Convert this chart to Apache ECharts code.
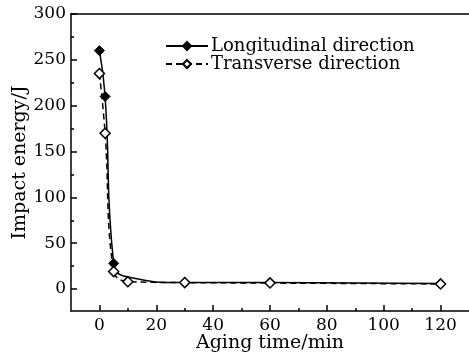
<!DOCTYPE html>
<html>
<head>
<meta charset="utf-8">
<script src="https://cdn.jsdelivr.net/npm/echarts@6/dist/echarts.min.js"></script>
<style>
  html, body { margin: 0; padding: 0; background: #fff; }
  #chart { width: 469px; height: 356px; }
</style>
</head>
<body>
<div id="chart"></div>
<script>
// 数据
var longX = [0, 2, 5, 10, 30, 60, 120];
var longY = [260, 210, 28, 13, 7, 7, 6];
var transX = [0, 2, 5, 10, 30, 60, 120];
var transY = [235, 170, 19, 8, 7, 6.5, 5.5];
var xMajor = [0, 20, 40, 60, 80, 100, 120];
var xMinor = [10, 30, 50, 70, 90, 110];
var yMajor = [0, 50, 100, 150, 200, 250, 300];
var yMinor = [25, 75, 125, 175, 225, 275];

var font = 'DejaVu Serif';

var longData = longX.map(function (x, i) {
  // x=10 只是曲线上的点，不画符号
  if (x === 10) return { value: [x, longY[i]], symbol: 'none' };
  return [x, longY[i]];
});
var transData = transX.map(function (x, i) { return [x, transY[i]]; });

var chart = echarts.init(document.getElementById('chart'));

var lineBlack = { color: '#000', width: 1.5 };

var option = {
  animation: false,
  grid: { left: 71, right: 0, top: 14, bottom: 45, outerBoundsMode: 'none', containLabel: false },
  legend: {
    orient: 'vertical',
    left: 160,
    top: 32,
    itemWidth: 42,
    itemHeight: 10,
    itemGap: 0,
    data: ['Longitudinal direction', 'Transverse direction'],
    textStyle: { fontFamily: font, fontSize: 18, color: '#000', lineHeight: 17, padding: [0, 0, 0, -2] }
  },
  xAxis: [{
    type: 'value',
    min: -10,
    max: 130,
    position: 'bottom',
    name: 'Aging time/min',
    nameLocation: 'middle',
    nameGap: 23,
    nameMoveOverlap: false,
    nameTextStyle: { fontFamily: font, fontSize: 19, color: '#000' },
    axisLine: { onZero: false, lineStyle: lineBlack },
    axisTick: { inside: true, length: 6, customValues: xMajor, lineStyle: lineBlack },
    axisLabel: { customValues: xMajor, fontFamily: font, fontSize: 17, color: '#000', margin: 6 },
    splitLine: { show: false }
  }, {
    type: 'value',
    min: -10,
    max: 130,
    position: 'bottom',
    axisLine: { show: false, onZero: false },
    axisTick: { inside: true, length: 3, customValues: xMinor, lineStyle: lineBlack },
    axisLabel: { show: false },
    splitLine: { show: false }
  }, {
    type: 'value',
    min: -10,
    max: 130,
    position: 'top',
    axisLine: { onZero: false, lineStyle: lineBlack },
    axisTick: { show: false },
    axisLabel: { show: false },
    splitLine: { show: false }
  }],
  yAxis: [{
    type: 'value',
    min: -24,
    max: 300,
    name: 'Impact energy/J',
    nameLocation: 'middle',
    nameGap: 41,
    nameMoveOverlap: false,
    nameTextStyle: { fontFamily: font, fontSize: 19, color: '#000' },
    axisLine: { onZero: false, lineStyle: lineBlack },
    axisTick: { inside: true, length: 6, customValues: yMajor, lineStyle: lineBlack },
    axisLabel: { customValues: yMajor, fontFamily: font, fontSize: 17, color: '#000', margin: 5 },
    splitLine: { show: false }
  }, {
    type: 'value',
    min: -24,
    max: 300,
    position: 'left',
    axisLine: { show: false, onZero: false },
    axisTick: { inside: true, length: 3, customValues: yMinor, lineStyle: lineBlack },
    axisLabel: { show: false },
    splitLine: { show: false }
  }],
  series: [{
    name: 'Longitudinal direction',
    type: 'line',
    xAxisIndex: 0,
    yAxisIndex: 0,
    smooth: 0.5,
    symbol: 'diamond',
    symbolSize: 10,
    itemStyle: { color: '#000', borderColor: '#000', borderWidth: 1 },
    lineStyle: { color: '#000', width: 1.5, type: 'solid' },
    data: longData,
    z: 2
  }, {
    name: 'Transverse direction',
    type: 'line',
    xAxisIndex: 0,
    yAxisIndex: 0,
    smooth: 0.4,
    symbol: 'diamond',
    symbolSize: 10,
    itemStyle: { color: '#fff', borderColor: '#000', borderWidth: 1.5 },
    lineStyle: { color: '#000', width: 1.5, type: [6, 4] },
    data: transData,
    z: 3
  }]
};
chart.setOption(option);
</script>
</body>
</html>
